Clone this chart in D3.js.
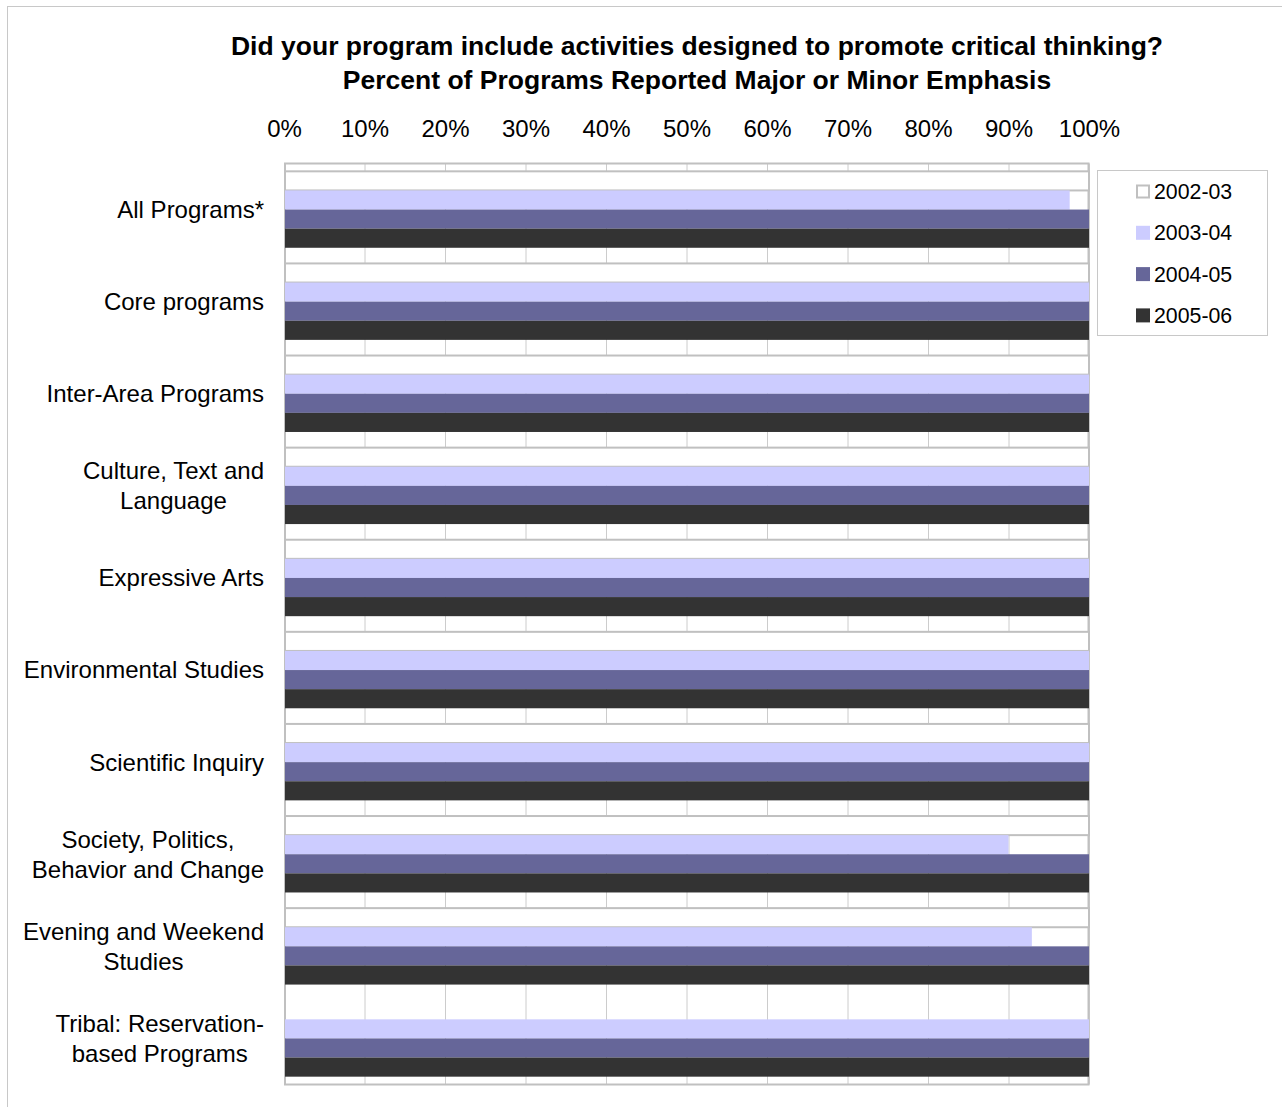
<!DOCTYPE html>
<html>
<head>
<meta charset="utf-8">
<script src="https://cdn.jsdelivr.net/npm/d3@7/dist/d3.min.js"></script>
<style>
  body { margin: 0; background: #fff; }
  svg { display: block; font-family: "Liberation Sans", Arial, sans-serif; }
</style>
</head>
<body>
<div id="chart"></div>
<script>
const categories = [
    'All Programs*',
    'Core programs',
    'Inter-Area Programs',
    'Culture, Text and\nLanguage',
    'Expressive Arts',
    'Environmental Studies',
    'Scientific Inquiry',
    'Society, Politics,\nBehavior and Change',
    'Evening and Weekend\nStudies',
    'Tribal: Reservation-\nbased Programs'
];
const seriesNames = ['2002-03', '2003-04', '2004-05', '2005-06'];
const values0203 = [100, 100, 100, 100, 100, 100, 100, 100, 100, null];
const values0304 = [97.6, 100, 100, 100, 100, 100, 100, 90, 92.9, 100];
const values0405 = [100, 100, 100, 100, 100, 100, 100, 100, 100, 100];
const values0506 = [100, 100, 100, 100, 100, 100, 100, 100, 100, 100];
const tickValues = [0, 10, 20, 30, 40, 50, 60, 70, 80, 90, 100];

const seriesValues = [values0203, values0304, values0405, values0506];
const seriesColors = ['#ffffff', '#ccccff', '#666699', '#333333'];

const width = 1282;
const height = 1107;
const margin = { top: 163.5, right: 193, bottom: 22.5, left: 284 };

const svg = d3.select('#chart')
    .append('svg')
    .attr('width', width)
    .attr('height', height);

// outer chart frame
svg.append('rect')
    .attr('x', 7.5)
    .attr('y', 6.5)
    .attr('width', width + 20)
    .attr('height', height + 20)
    .attr('fill', '#fff')
    .attr('stroke', '#c8c8c8')
    .attr('stroke-width', 1);

const x = d3.scaleLinear()
    .domain([0, 100])
    .range([margin.left, width - margin.right]);

const y0 = d3.scaleBand()
    .domain(categories)
    .range([margin.top, height - margin.bottom])
    .paddingInner(0.17)
    .paddingOuter(0.085);

const y1 = d3.scaleBand()
    .domain(seriesNames)
    .range([0, y0.bandwidth()]);

// title
const title = svg.append('text')
    .attr('x', 697)
    .attr('text-anchor', 'middle')
    .style('font-weight', 'bold')
    .style('font-size', '26.5px');
title.append('tspan').attr('x', 697).attr('y', 55)
    .text('Did your program include activities designed to promote critical thinking?');
title.append('tspan').attr('x', 697).attr('y', 89)
    .text('Percent of Programs Reported Major or Minor Emphasis');

// tick labels on top
const axisTop = svg.append('g')
    .attr('transform', `translate(0,${margin.top})`)
    .call(d3.axisTop(x).tickValues(tickValues).tickFormat(d => d + '%').tickSize(0).tickPadding(27));
axisTop.select('.domain').remove();
axisTop.selectAll('text')
    .style('font-family', '"Liberation Sans", Arial, sans-serif')
    .style('font-size', '24px')
    .attr('fill', '#000');

// vertical gridlines
const plotH = height - margin.bottom - margin.top;
const grid = svg.append('g')
    .attr('transform', `translate(0,${margin.top})`)
    .call(d3.axisBottom(x).tickValues(tickValues).tickFormat('').tickSize(plotH));
grid.select('.domain').remove();
grid.selectAll('line').attr('stroke', '#cccccc').attr('stroke-width', 1);

// plot area border
svg.append('rect')
    .attr('x', x(0) + 1)
    .attr('y', margin.top)
    .attr('width', x(100) - x(0) - 1.5)
    .attr('height', plotH)
    .attr('fill', 'none')
    .attr('stroke', '#c0c0c0')
    .attr('stroke-width', 2);

// bars
const rows = categories.map((c, i) => ({
    category: c,
    values: seriesNames.map((s, j) => ({ series: s, value: seriesValues[j][i], color: seriesColors[j] }))
}));

const groups = svg.selectAll('g.group')
    .data(rows)
    .enter()
    .append('g')
    .attr('class', 'group')
    .attr('transform', d => `translate(0,${y0(d.category)})`);

groups.selectAll('rect')
    .data(d => d.values.filter(v => v.value != null))
    .enter()
    .append('rect')
    .attr('x', x(0) + 1)
    .attr('y', d => y1(d.series))
    .attr('width', d => x(d.value) - x(0) - 1)
    .attr('height', y1.bandwidth())
    .attr('fill', d => d.color)
    .attr('stroke', d => d.series === '2002-03' ? '#c0c0c0' : 'none')
    .attr('stroke-width', 2);

// category labels, block right-aligned, lines centred on each other
const labelRight = 264;
categories.forEach(c => {
    const lines = c.split('\n');
    const cy = y0(c) + y0.bandwidth() / 2;
    const t = svg.append('text')
        .attr('text-anchor', 'middle')
        .style('font-size', '24px')
        .attr('fill', '#000');
    lines.forEach((line, k) => {
        t.append('tspan')
            .attr('y', cy + (k - (lines.length - 1) / 2) * 30)
            .attr('dy', '0.35em')
            .text(line);
    });
    let maxW = 0;
    t.selectAll('tspan').each(function() { maxW = Math.max(maxW, this.getComputedTextLength()); });
    t.selectAll('tspan').attr('x', labelRight - maxW / 2);
});

// legend
const legend = svg.append('g');
legend.append('rect')
    .attr('x', 1097.5)
    .attr('y', 170.5)
    .attr('width', 170)
    .attr('height', 165)
    .attr('fill', '#fff')
    .attr('stroke', '#c8c8c8');

seriesNames.forEach((s, i) => {
    const ly = 191.5 + i * 41.3;
    legend.append('rect')
        .attr('x', s === '2002-03' ? 1137 : 1136)
        .attr('y', s === '2002-03' ? ly - 6 : ly - 7)
        .attr('width', s === '2002-03' ? 12 : 14)
        .attr('height', s === '2002-03' ? 12 : 14)
        .attr('fill', seriesColors[i])
        .attr('stroke', s === '2002-03' ? '#c0c0c0' : 'none')
        .attr('stroke-width', 2);
    legend.append('text')
        .attr('x', 1154)
        .attr('y', ly)
        .attr('dy', '0.35em')
        .style('font-size', '21.3px')
        .text(s);
});
</script>
</body>
</html>
